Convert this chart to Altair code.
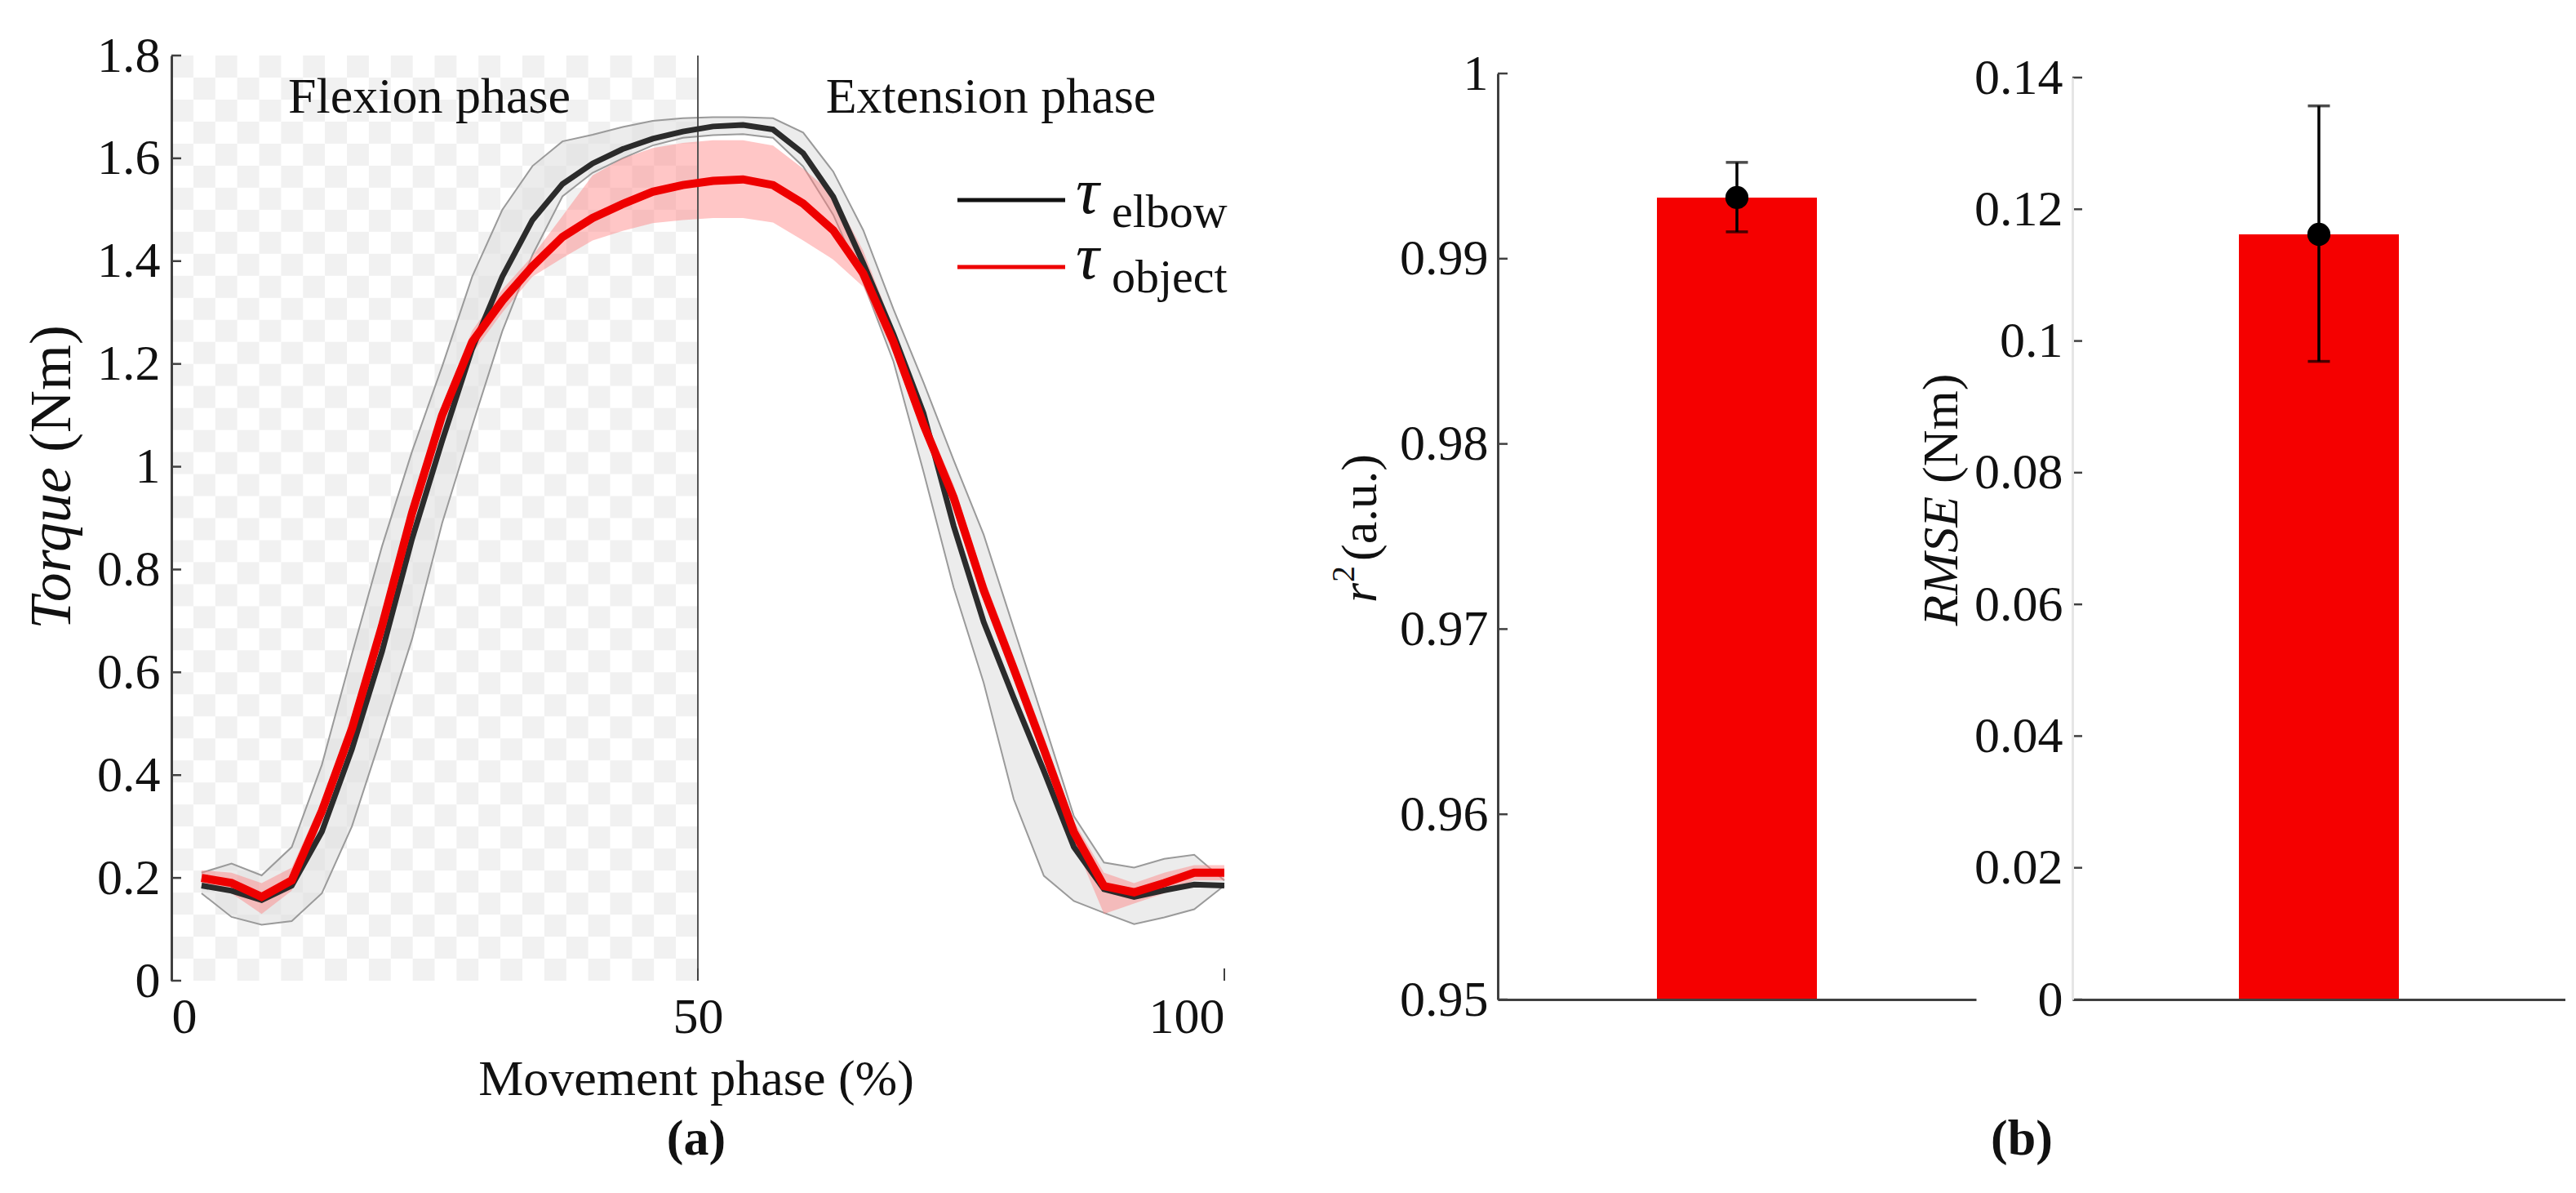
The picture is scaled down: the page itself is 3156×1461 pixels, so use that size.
import altair as alt
import pandas as pd

# ---- (a) torque profiles ----------------------------------------------------
phase = [2.86, 5.71, 8.57, 11.43, 14.29, 17.14, 20.0, 22.86, 25.71, 28.57,
         31.43, 34.29, 37.14, 40.0, 42.86, 45.71, 48.57, 51.43, 54.29, 57.14,
         60.0, 62.86, 65.71, 68.57, 71.43, 74.29, 77.14, 80.0, 82.86, 85.71,
         88.57, 91.43, 94.29, 97.14, 100.0]

elbow_mean = [0.185, 0.175, 0.157, 0.185, 0.29, 0.45, 0.64, 0.86, 1.05, 1.23,
              1.37, 1.48, 1.55, 1.59, 1.618, 1.638, 1.652, 1.662, 1.665, 1.656,
              1.61, 1.525, 1.396, 1.258, 1.104, 0.885, 0.698, 0.55, 0.408, 0.26,
              0.178, 0.163, 0.176, 0.187, 0.185]
elbow_lo = [0.17, 0.124, 0.109, 0.116, 0.17, 0.30, 0.48, 0.665, 0.89, 1.08,
            1.264, 1.412, 1.526, 1.572, 1.60, 1.625, 1.64, 1.645, 1.647, 1.64,
            1.584, 1.49, 1.359, 1.205, 0.99, 0.765, 0.58, 0.353, 0.204, 0.155,
            0.132, 0.11, 0.123, 0.139, 0.185]
elbow_hi = [0.21, 0.228, 0.205, 0.26, 0.42, 0.635, 0.845, 1.03, 1.195, 1.37,
            1.50, 1.585, 1.633, 1.646, 1.661, 1.673, 1.678, 1.68, 1.68, 1.678,
            1.65, 1.574, 1.46, 1.307, 1.164, 1.013, 0.868, 0.686, 0.504, 0.32,
            0.23, 0.22, 0.237, 0.245, 0.195]

object_mean = [0.20, 0.19, 0.163, 0.195, 0.33, 0.49, 0.69, 0.91, 1.10, 1.243,
               1.323, 1.39, 1.447, 1.484, 1.511, 1.535, 1.548, 1.556, 1.559, 1.548,
               1.512, 1.46, 1.376, 1.243, 1.082, 0.94, 0.76, 0.607, 0.45, 0.289,
               0.184, 0.172, 0.19, 0.21, 0.21]
object_lo = [0.19, 0.17, 0.13, 0.175, 0.31, 0.47, 0.67, 0.89, 1.08, 1.22,
             1.30, 1.37, 1.406, 1.44, 1.459, 1.474, 1.48, 1.484, 1.484, 1.475,
             1.44, 1.403, 1.35, 1.22, 1.065, 0.92, 0.74, 0.59, 0.43, 0.27,
             0.13, 0.15, 0.17, 0.195, 0.195]
object_hi = [0.215, 0.21, 0.19, 0.22, 0.35, 0.51, 0.71, 0.93, 1.12, 1.265,
             1.345, 1.41, 1.488, 1.567, 1.60, 1.62, 1.63, 1.635, 1.635, 1.625,
             1.58, 1.53, 1.42, 1.27, 1.10, 0.965, 0.785, 0.63, 0.475, 0.31,
             0.21, 0.19, 0.21, 0.225, 0.225]

torque_ticks = [0, 0.2, 0.4, 0.6, 0.8, 1, 1.2, 1.4, 1.6, 1.8]
phase_ticks = [0, 50, 100]
phase_split = [50]

# ---- (b) goodness of fit ------------------------------------------------------
r2_mean, r2_lo, r2_hi = 0.9933, 0.99145, 0.9952
rmse_mean, rmse_lo, rmse_hi = 0.1162, 0.0969, 0.1357
r2_ticks = [0.95, 0.96, 0.97, 0.98, 0.99, 1]
rmse_ticks = [0, 0.02, 0.04, 0.06, 0.08, 0.1, 0.12, 0.14]

SERIF = "Liberation Serif, Times New Roman, serif"
INK = "#111111"
AXIS = "#404040"
AW, AH = 1290, 1133      # panel (a) plot area
BH = 1156                # panels (b), range trimmed to sit a bit lower
B1W, B2W = 586, 604
LBL = dict(labelFont=SERIF, labelFontSize=62, labelColor=INK, zindex=1)


def label(text, x, y, size=62, **kw):
    return alt.Chart(pd.DataFrame({"t": [text]})).mark_text(
        font=SERIF, fontSize=size, color=INK, baseline="alphabetic", **kw
    ).encode(text="t:N", x=alt.value(x), y=alt.value(y))


# ---------------- panel (a) ----------------
curves = pd.DataFrame({
    "phase": phase,
    "elbow": elbow_mean, "elbow_lo": elbow_lo, "elbow_hi": elbow_hi,
    "object": object_mean, "object_lo": object_lo, "object_hi": object_hi,
})

xs = alt.Scale(domain=[0, 100], nice=False, zero=False)
ys = alt.Scale(domain=[0, 1.8], nice=False)
x_axis = alt.Axis(values=phase_ticks, domain=False, ticks=False, tickSize=0,
                  labelPadding=14, title=None, grid=False, **LBL)
y_axis = alt.Axis(values=torque_ticks, format="~g", domain=True, ticks=False,
                  tickSize=0, labelPadding=14, title=None, grid=False, **LBL)


def X(field):
    return alt.X(field, type="quantitative", scale=xs, axis=x_axis)


def Y(field):
    return alt.Y(field, type="quantitative", scale=ys, axis=y_axis)


# checkered shading of the flexion phase (background texture)
cells = []
nx, ny = 24, 42
for i in range(nx):
    for j in range(ny):
        if (i + j) % 2 == 0:
            cells.append({"x0": i * 50 / nx, "x1": (i + 1) * 50 / nx,
                          "y1": 1.8 - j * 1.8 / ny, "y0": 1.8 - (j + 1) * 1.8 / ny})
checker = alt.Chart(pd.DataFrame(cells)).mark_rect(color="#f1f1f1").encode(
    x=X("x0"), x2="x1", y=Y("y0"), y2="y1")

base = alt.Chart(curves)
gray_band = base.mark_area(color="#e0e0e0", opacity=0.6).encode(
    x=X("phase"), y=Y("elbow_lo"), y2="elbow_hi")
gray_lo = base.mark_line(color="#9a9a9a", strokeWidth=2).encode(x=X("phase"), y=Y("elbow_lo"))
gray_hi = base.mark_line(color="#9a9a9a", strokeWidth=2).encode(x=X("phase"), y=Y("elbow_hi"))
red_band = base.mark_area(color="#ff8080", opacity=0.45).encode(
    x=X("phase"), y=Y("object_lo"), y2="object_hi")
split = alt.Chart(pd.DataFrame({"phase": phase_split})).mark_rule(
    color="#555555", strokeWidth=2).encode(x=X("phase"))
elbow_line = base.mark_line(color="#2b2b2b", strokeWidth=7).encode(x=X("phase"), y=Y("elbow"))
object_line = base.mark_line(color="#ee0000", strokeWidth=10).encode(x=X("phase"), y=Y("object"))

y_ticks = alt.Chart(pd.DataFrame({"v": torque_ticks})).mark_rule(
    color=AXIS, strokeWidth=2.5).encode(y=Y("v"), x=alt.value(0), x2=alt.value(12))
x_ticks = alt.Chart(pd.DataFrame({"v": phase_ticks})).mark_rule(
    color=AXIS, strokeWidth=2).encode(x=X("v"), y=alt.value(AH), y2=alt.value(AH - 15))

legend_elbow = alt.Chart(pd.DataFrame({"k": [0]})).mark_rule(
    color="#111111", strokeWidth=5).encode(x=alt.value(963), x2=alt.value(1095), y=alt.value(177))
legend_object = alt.Chart(pd.DataFrame({"k": [0]})).mark_rule(
    color="#ee0000", strokeWidth=5).encode(x=alt.value(963), x2=alt.value(1095), y=alt.value(259))

panel_a = alt.layer(
    checker, gray_band, gray_lo, gray_hi, red_band, split,
    elbow_line, object_line, y_ticks, x_ticks,
    legend_elbow, legend_object,
    label("τ", 1108, 193, size=80, fontStyle="italic", align="left"),
    label("elbow", 1152, 210, size=58, align="left"),
    label("τ", 1108, 273, size=80, fontStyle="italic", align="left"),
    label("object", 1152, 290, size=58, align="left"),
    label("Flexion phase", 316, 70, align="center"),
    label("Extension phase", 1004, 70, align="center"),
    label("Torque", -124, 504, size=72, fontStyle="italic", angle=270, align="right"),
    label("(Nm)", -124, 486, size=72, angle=270, align="left"),
    label("Movement phase (%)", 643, 1273, align="center"),
    label("(a)", 643, 1346, fontWeight="bold", align="center"),
).properties(width=AW, height=AH)


# ---------------- panels (b) ----------------
def bar_panel(mean, lo, hi, floor, ticks, domain, top, axis_color):
    df = pd.DataFrame({"cat": ["m"], "mean": [mean], "lo": [lo], "hi": [hi], "base": [floor]})
    bx = alt.X("cat:N", scale=alt.Scale(paddingInner=0, paddingOuter=0),
               axis=alt.Axis(labels=False, ticks=False, tickSize=0, title=None,
                             domain=True, grid=False, zindex=1))
    bs = alt.Scale(domain=domain, nice=False, zero=False, range=[BH, top])
    yax = alt.Axis(values=ticks, format="~g", domain=True, domainColor=axis_color,
                   ticks=False, tickSize=0, labelPadding=12, title=None, grid=False, **LBL)

    def BY(field):
        return alt.Y(field, type="quantitative", scale=bs, axis=yax)

    c = alt.Chart(df)
    bar = c.mark_bar(color="#f50000", size=196).encode(x=bx, y=BY("mean"), y2="base")
    err = c.mark_rule(color="black", strokeWidth=3.5).encode(x=bx, y=BY("lo"), y2="hi")
    cap_lo = c.mark_tick(color="black", orient="horizontal", size=27, thickness=3.5).encode(x=bx, y=BY("lo"))
    cap_hi = c.mark_tick(color="black", orient="horizontal", size=27, thickness=3.5).encode(x=bx, y=BY("hi"))
    dot = c.mark_circle(color="black", size=800, opacity=1).encode(x=bx, y=BY("mean"))
    tks = alt.Chart(pd.DataFrame({"v": ticks})).mark_rule(color=AXIS, strokeWidth=2.5).encode(
        y=BY("v"), x=alt.value(0), x2=alt.value(12))
    return [bar, err, cap_lo, cap_hi, dot, tks]


panel_b1 = alt.layer(
    *bar_panel(r2_mean, r2_lo, r2_hi, 0.95, r2_ticks, [0.95, 1], 22, AXIS),
    label("r", -149, 670, fontStyle="italic", angle=270, align="left"),
    label("2", -176, 645, size=40, angle=270, align="left"),
    label("(a.u.)", -149, 619, angle=270, align="left"),
).properties(width=B1W, height=BH)

panel_b2 = alt.layer(
    *bar_panel(rmse_mean, rmse_lo, rmse_hi, 0, rmse_ticks, [0, 0.14], 27, "#e6e6e6"),
    label("RMSE", -141, 540, fontStyle="italic", angle=270, align="right"),
    label("(Nm)", -141, 524, angle=270, align="left"),
    label("(b)", -62, 1346, fontWeight="bold", align="center"),
).properties(width=B2W, height=BH)

panel_b = alt.hconcat(panel_b1, panel_b2, spacing=118, bounds="flush").resolve_scale(
    x="independent", y="independent")

chart = alt.hconcat(panel_a, panel_b, spacing=335, bounds="flush").resolve_scale(
    x="independent", y="independent"
).properties(
    padding={"left": 20, "top": 29, "right": 0, "bottom": 5}, background="white"
).configure_view(stroke=None).configure_axis(
    labelFont=SERIF, labelFontSize=62, labelColor=INK,
    domainColor=AXIS, domainWidth=3, grid=False,
)

chart.save("out.html", embed_options={"renderer": "svg", "actions": False})
